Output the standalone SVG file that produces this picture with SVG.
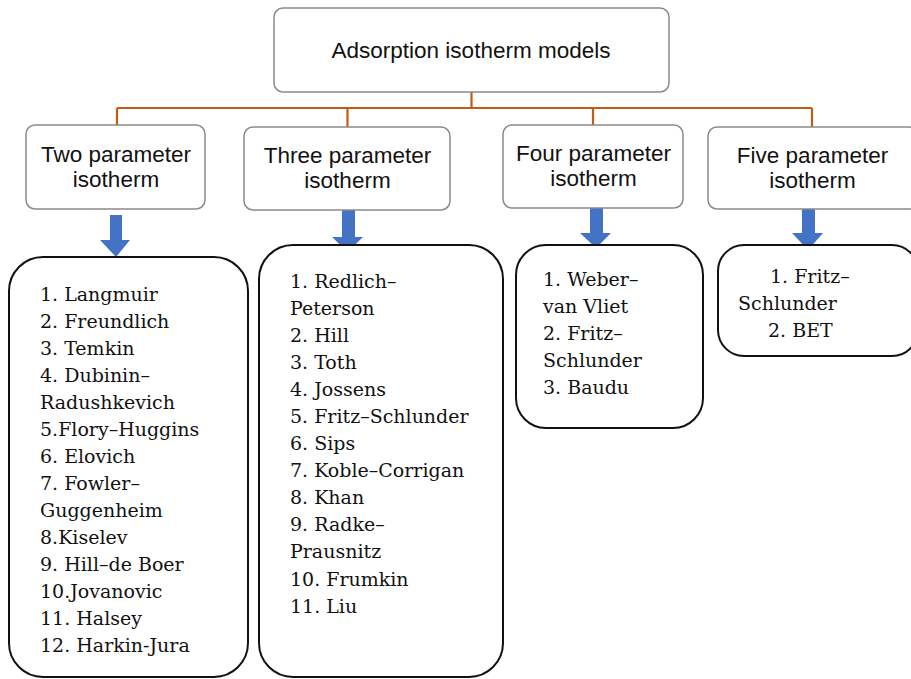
<svg xmlns="http://www.w3.org/2000/svg" width="911" height="679" viewBox="0 0 911 679">
<style>
.hbox{fill:#fff;stroke:#8a8a8a;stroke-width:1.5}
.lbox{fill:#fff;stroke:#111;stroke-width:2}
.ht{font-family:"Liberation Sans",Arial,sans-serif;font-size:22.5px;fill:#111;text-anchor:middle}
.lt{font-family:"DejaVu Serif","Liberation Serif",serif;font-size:19px;fill:#111}
.conn{fill:none;stroke:#C55A11;stroke-width:2.2}
.arr{fill:#4472C4}
</style>
<rect width="911" height="679" fill="#fff"/>
<g id="connectors">
<path class="conn" d="M471.5 92V108M117 108H812M117 108V125M347.5 108V127M593 108V125M812 108V127"/>
<path class="arr" d="M110 215H122V240H130L116 257L100 240H110Z"/>
<path class="arr" d="M342 210H355V237H363L347.5 252L332 237H342Z"/>
<path class="arr" d="M590 208H603V233H611L596 248L580 233H590Z"/>
<path class="arr" d="M802 208H815V233H823L808 250L792 233H802Z"/>
</g>
<g id="root">
<rect class="hbox" x="274" y="8" width="395" height="84" rx="9"/>
<text class="ht" x="471" y="58" font-size="23">Adsorption isotherm models</text>
</g>
<g id="two">
<rect class="hbox" x="26" y="125" width="179" height="84" rx="9"/>
<text class="ht" x="116" y="162">Two parameter</text>
<text class="ht" x="116" y="187">isotherm</text>
</g>
<g id="three">
<rect class="hbox" x="244" y="127" width="206" height="83" rx="9"/>
<text class="ht" x="347.5" y="163">Three parameter</text>
<text class="ht" x="347.5" y="188">isotherm</text>
</g>
<g id="four">
<rect class="hbox" x="503" y="125" width="180" height="83" rx="9"/>
<text class="ht" x="593.5" y="161">Four parameter</text>
<text class="ht" x="593.5" y="186">isotherm</text>
</g>
<g id="five">
<rect class="hbox" x="708" y="127" width="210" height="82" rx="9"/>
<text class="ht" x="812.5" y="163">Five parameter</text>
<text class="ht" x="812.5" y="188">isotherm</text>
</g>
<g id="list-two">
<rect class="lbox" x="9" y="257" width="239" height="420" rx="34"/>
<text class="lt" x="40" y="301">1. Langmuir</text>
<text class="lt" x="40" y="328">2. Freundlich</text>
<text class="lt" x="40" y="355">3. Temkin</text>
<text class="lt" x="40" y="382">4. Dubinin–</text>
<text class="lt" x="40" y="409">Radushkevich</text>
<text class="lt" x="40" y="436">5.Flory–Huggins</text>
<text class="lt" x="40" y="463">6. Elovich</text>
<text class="lt" x="40" y="490">7. Fowler–</text>
<text class="lt" x="40" y="517">Guggenheim</text>
<text class="lt" x="40" y="544">8.Kiselev</text>
<text class="lt" x="40" y="571">9. Hill–de Boer</text>
<text class="lt" x="40" y="598">10.Jovanovic</text>
<text class="lt" x="40" y="625">11. Halsey</text>
<text class="lt" x="40" y="652">12. Harkin-Jura</text>
</g>
<g id="list-three">
<rect class="lbox" x="259" y="245" width="244" height="432" rx="34"/>
<text class="lt" x="290" y="288">1. Redlich–</text>
<text class="lt" x="290" y="315">Peterson</text>
<text class="lt" x="290" y="342">2. Hill</text>
<text class="lt" x="290" y="369">3. Toth</text>
<text class="lt" x="290" y="396">4. Jossens</text>
<text class="lt" x="290" y="423">5. Fritz–Schlunder</text>
<text class="lt" x="290" y="450">6. Sips</text>
<text class="lt" x="290" y="477">7. Koble–Corrigan</text>
<text class="lt" x="290" y="504">8. Khan</text>
<text class="lt" x="290" y="531">9. Radke–</text>
<text class="lt" x="290" y="558">Prausnitz</text>
<text class="lt" x="290" y="586">10. Frumkin</text>
<text class="lt" x="290" y="613">11. Liu</text>
</g>
<g id="list-four">
<rect class="lbox" x="516" y="245" width="187" height="183" rx="30"/>
<text class="lt" x="543" y="286">1. Weber–</text>
<text class="lt" x="543" y="313">van Vliet</text>
<text class="lt" x="543" y="340">2. Fritz–</text>
<text class="lt" x="543" y="367">Schlunder</text>
<text class="lt" x="543" y="394">3. Baudu</text>
</g>
<g id="list-five">
<rect class="lbox" x="718" y="245" width="200" height="111" rx="26"/>
<text class="lt" x="770" y="283">1. Fritz–</text>
<text class="lt" x="738" y="310">Schlunder</text>
<text class="lt" x="768" y="337">2. BET</text>
</g>
</svg>
